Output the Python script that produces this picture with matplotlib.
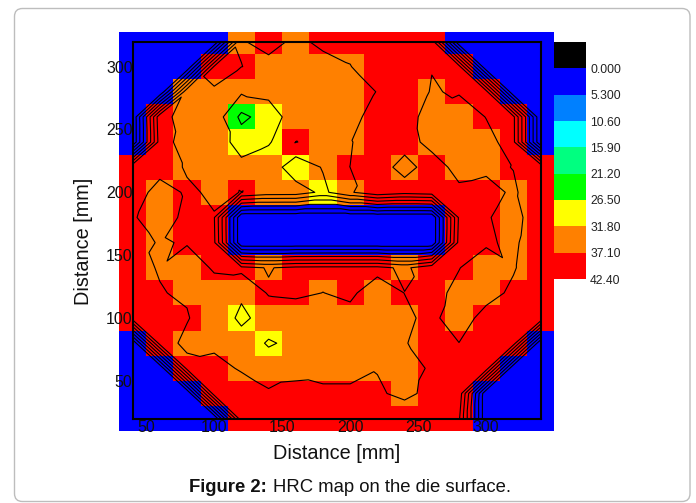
import matplotlib
matplotlib.use('Agg')
import matplotlib.pyplot as plt
import matplotlib.tri as mtri
from matplotlib.colors import BoundaryNorm, ListedColormap
from matplotlib.patches import FancyBboxPatch, Rectangle
from matplotlib.transforms import IdentityTransform
import numpy as np

plt.rcParams['font.family'] = ['Liberation Sans', 'DejaVu Sans']

x_mm = [40, 60, 80, 100, 120, 140, 160, 180, 200, 220, 240, 260, 280, 300, 320, 340]
y_mm = [320, 300, 280, 260, 240, 220, 200, 180, 160, 140, 120, 100, 80, 60, 40, 20]

# HRC readings, top row of the picture first
hrc = [
    [0, 0, 0, 0, 36.9, 38, 36.6, 37.6, 38, 39, 39, 40, 0, 0, 0, 0],
    [0, 0, 0, 37.8, 37.14, 36.3, 35.5, 36.3, 37.0, 39, 39, 37.2, 39, 0, 0, 0],
    [0, 0, 36, 36.9, 32.5, 33.2, 35, 36, 34, 37.3, 39, 36.9, 37.4, 39, 0, 0],
    [0, 41.2, 32.1, 35.1, 25.2, 29, 34.6, 36, 36, 38.5, 38, 36.2, 35.1, 37.2, 38.5, 0],
    [0, 40, 34.2, 35, 29.5, 31.2, 37.15, 36.5, 37.0, 38, 38.5, 36.05, 34, 36, 38.6, 0],
    [42, 40, 36.5, 36, 33.3, 35.6, 28, 32.2, 37.11, 38.8, 35.8, 38.7, 36, 36.3, 37.2, 42],
    [41.2, 34, 38, 36.2, 37.2, 35, 34.8, 30.5, 36.5, 41, 39, 40, 37.8, 38.5, 36.5, 40],
    [38, 32.5, 39.5, 37.4, 0, 0, 0, 0, 0, 0, 0, 0, 38, 37.5, 35.3, 40.4],
    [40, 36.5, 37.65, 38, 0, 0, 0, 0, 0, 0, 0, 0, 39, 38, 35.8, 42],
    [38, 36.9, 33, 38, 38.5, 36.8, 38.3, 38.5, 38.5, 38.6, 36, 40.8, 37.3, 33.5, 36.5, 42],
    [40, 37.27, 36.65, 33.7, 32.4, 37.6, 38, 37.05, 38, 34.5, 37.17, 39.1, 35.5, 34.4, 38.5, 42],
    [40, 39, 37.4, 34.4, 31, 33.4, 34.2, 35, 35.5, 35, 36, 38.6, 33.5, 39.8, 40, 42],
    [0, 39.3, 36, 35.2, 33.5, 31.5, 32.5, 35, 36, 36, 36.8, 39.3, 37.2, 40, 40, 0],
    [0, 0, 38.8, 40, 36.2, 33.4, 36, 35, 35, 36.9, 34, 38.1, 39, 40, 0, 0],
    [0, 0, 0, 40, 42, 38, 38.2, 38.4, 38.4, 37.7, 36, 38.4, 41, 0, 0, 0],
    [0, 0, 0, 0, 41, 40, 40, 40, 40, 40, 40.2, 40, 38, 0, 0, 0],
]

levels = [-5.3, 0.0, 5.3, 10.6, 15.9, 21.2, 26.5, 31.8, 37.1, 42.4]
level_labels = ['0.000', '5.300', '10.60', '15.90', '21.20', '26.50', '31.80', '37.10', '42.40']
level_colors = ['#000000', '#0000ff', '#0080ff', '#00ffff', '#00ff80',
                '#00ff00', '#ffff00', '#ff8000', '#ff0000']


def gridTriangles(z):
    # split each grid cell along the diagonal whose two ends are closest in value
    nrows, ncols = z.shape
    triangles = []
    for i in range(nrows - 1):
        for j in range(ncols - 1):
            a = i * ncols + j
            b = a + 1
            c = a + ncols
            d = c + 1
            if abs(z[i, j] - z[i + 1, j + 1]) <= abs(z[i, j + 1] - z[i + 1, j]):
                triangles += [[a, b, d], [a, d, c]]
            else:
                triangles += [[a, b, c], [b, d, c]]
    return triangles


W, H = 696, 503
fig = plt.figure(figsize=(W / 100, H / 100), dpi=100)

# card behind everything, pixel coordinates
card = FancyBboxPatch((14.5, 1.5), 675.5, 493, boxstyle='round,pad=0,rounding_size=8',
                      transform=IdentityTransform(), fc='white', ec='#bdbdbd', lw=1.0, zorder=-1)
fig.add_artist(card)

ax = fig.add_axes([132.6 / W, 1 - 418.6 / H, 408 / W, 377.1 / H])
cmap = ListedColormap(level_colors)
norm = BoundaryNorm(levels, cmap.N)
z = np.array(hrc)[::-1]
y_up = y_mm[::-1]

mesh = ax.pcolormesh(x_mm, y_up, z, cmap=cmap, norm=norm, shading='nearest', zorder=1)
# map overflows the frame by half a cell, cut off just above the top row
mesh.set_clip_path(Rectangle((30, 10), 320, 317.5, transform=ax.transData))

xx, yy = np.meshgrid(x_mm, y_up)
tri = mtri.Triangulation(xx.ravel(), yy.ravel(), gridTriangles(z))
ax.tricontour(tri, z.ravel(), levels=levels[2:-1], colors='black', linewidths=0.8, zorder=2)

ax.set_xlim(40, 340)
ax.set_ylim(20, 320)
ax.set_xticks([50, 100, 150, 200, 250, 300])
ax.set_yticks([50, 100, 150, 200, 250, 300])
ax.tick_params(length=0, labelsize=11.5, colors='#111111')
ax.tick_params(axis='x', pad=1)
ax.tick_params(axis='y', pad=0)
for s in ax.spines.values():
    s.set_linewidth(1.5)
    s.set_zorder(3)
ax.set_xlabel('Distance [mm]', fontsize=14.3, color='#111111')
ax.xaxis.set_label_coords(0.5, -0.068)
ax.set_ylabel('Distance [mm]', fontsize=14.3, color='#111111')
ax.yaxis.set_label_coords(-0.097, 0.47)

cax = fig.add_axes([554 / W, 1 - 279 / H, 32 / W, 237 / H])
cb = fig.colorbar(mesh, cax=cax, spacing='proportional', ticks=levels[1:])
cb.outline.set_visible(False)
cb.ax.set_yticklabels(level_labels)
cb.ax.invert_yaxis()
cb.ax.minorticks_off()
cb.ax.tick_params(which='both', length=0, labelsize=8.7, pad=3, colors='#222222')

fig.text(189 / W, 1 - 487 / H, 'Figure 2:', fontsize=13.3, fontweight='bold', va='center', color='#111111')
fig.text(273 / W, 1 - 487 / H, 'HRC map on the die surface.', fontsize=13.3, va='center', color='#111111')

fig.savefig('out.png', dpi=100)
